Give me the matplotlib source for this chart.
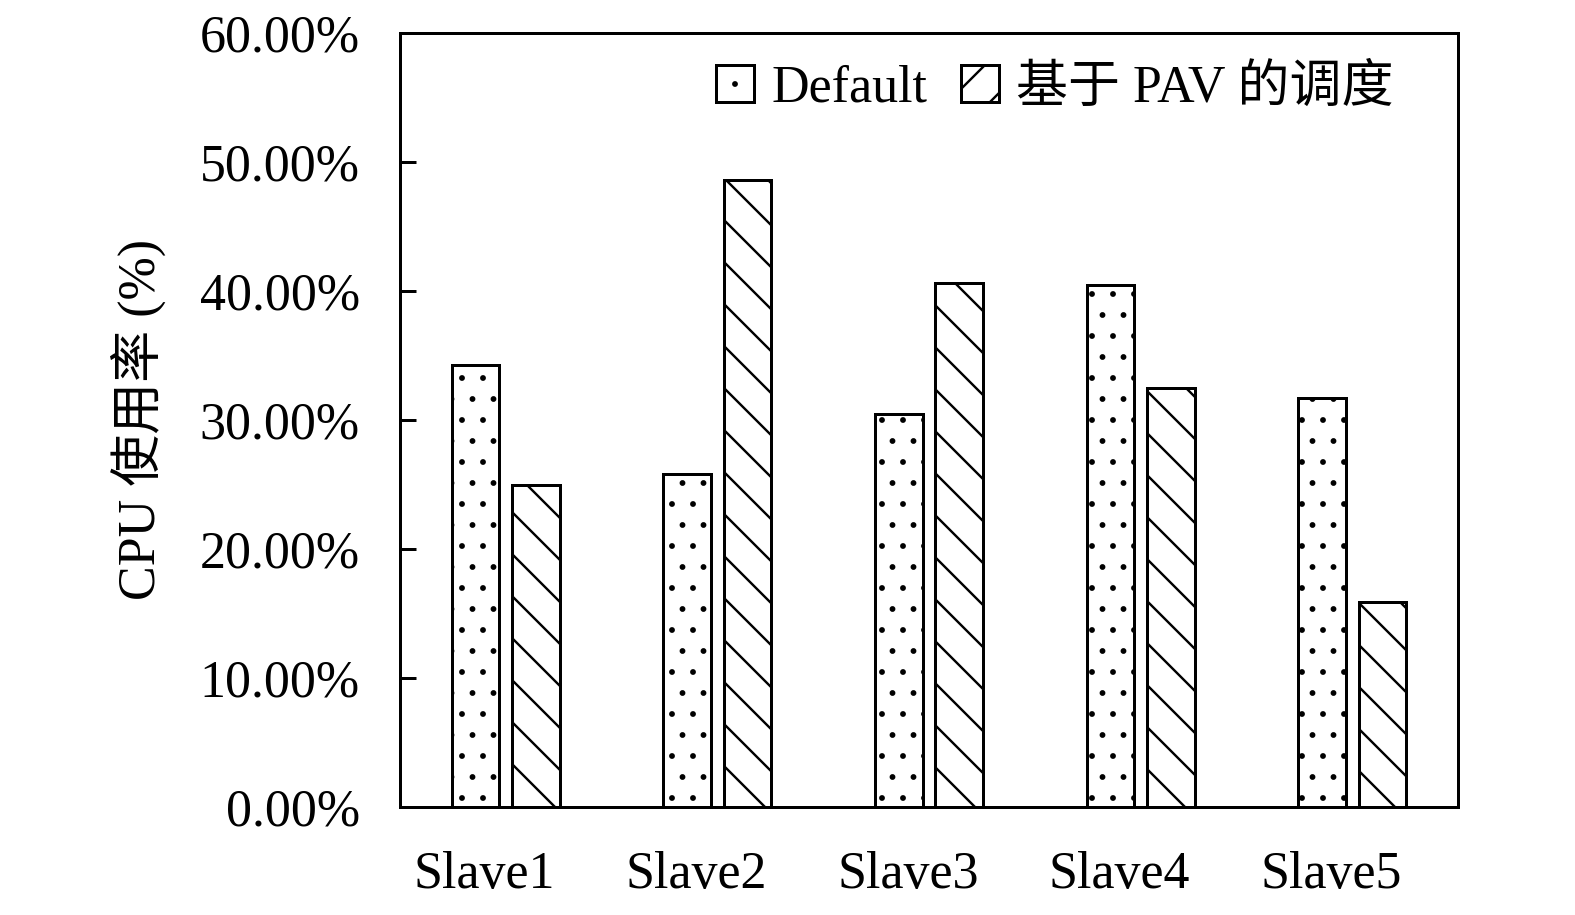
#CPU usage per node: default scheduler vs PAV-based scheduling

import numpy as np
import matplotlib
matplotlib.use('Agg')
import matplotlib.pyplot as plt
import matplotlib.hatch
from matplotlib.patches import Patch

# data (percent)
nodes = ['Slave1', 'Slave2', 'Slave3', 'Slave4', 'Slave5']
default_cpu = [34.3, 25.8, 30.5, 40.5, 31.7]
pav_cpu = [25.0, 48.6, 40.6, 32.5, 15.9]
yticks = [0, 10, 20, 30, 40, 50, 60]
series_names = ['Default', '基于 PAV 的调度']

# high dpi so the hatch cell gets big (sparser hatching)
DPI = 252

def px(n):  #pixels -> points
    return n * 72.0 / DPI

fonts = ['Liberation Serif', 'Noto Sans CJK SC']
fs = px(52)

plt.rcParams['font.family'] = fonts
plt.rcParams['hatch.linewidth'] = px(2.4)
plt.rcParams['hatch.color'] = 'black'
matplotlib.hatch.SmallFilledCircles.size = 0.08  # smaller stipple dots

fig = plt.figure(figsize=(1575 / DPI, 915 / DPI), dpi=DPI)
ax = fig.add_axes([400 / 1575, 1 - 807 / 915, 1058 / 1575, 774 / 915])

x = np.arange(len(nodes))
width = 0.225
off = 0.143

ax.bar(x - off, default_cpu, width, facecolor='white', edgecolor='black',
       linewidth=px(3), hatch='..')
ax.bar(x + off, pav_cpu, width, facecolor='white', edgecolor='black',
       linewidth=px(3), hatch='\\\\')

ax.set_xlim(-0.5, 4.5)
ax.set_ylim(0, 60)
ax.set_yticks(yticks)
ax.set_yticklabels(['%.2f%%' % v for v in yticks], fontsize=fs)
ax.set_xticks(x - 0.1)
ax.set_xticklabels(nodes, fontsize=fs)

ax.tick_params(axis='y', direction='in', length=px(16), width=px(3), pad=px(40))
ax.tick_params(axis='x', length=0, pad=px(44))
for s in ax.spines.values():
    s.set_linewidth(px(3))

ax.set_ylabel('CPU 使用率 (%)', fontsize=fs, labelpad=px(34))

handles = [Patch(facecolor='white', edgecolor='black', linewidth=px(3), hatch='..'),
           Patch(facecolor='white', edgecolor='black', linewidth=px(3), hatch='//')]
ax.legend(handles, series_names, loc='center', bbox_to_anchor=(0.619, 0.928),
          ncol=2, frameon=False, fontsize=fs, handlelength=0.73, handleheight=0.73,
          handletextpad=0.33, columnspacing=0.65, borderpad=0)

fig.savefig('out.png', dpi=DPI)
